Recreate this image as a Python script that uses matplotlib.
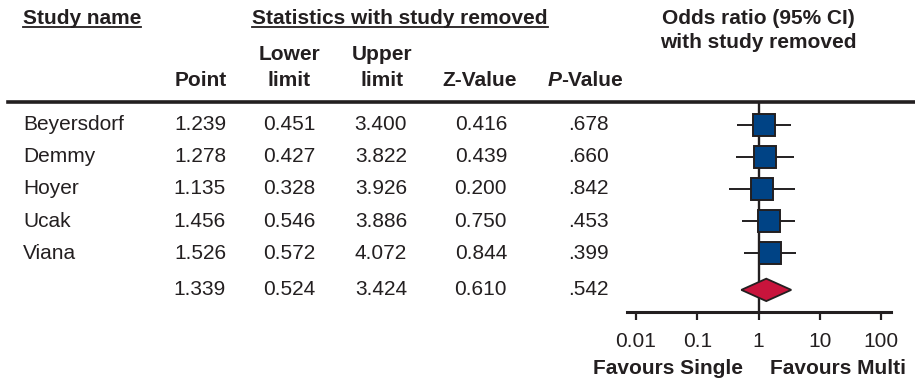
import matplotlib
matplotlib.use("Agg")
import matplotlib.pyplot as plt
from matplotlib.lines import Line2D
from matplotlib.patches import Polygon
from matplotlib.transforms import blended_transform_factory

# leave-one-out sensitivity analysis
studies = ["Beyersdorf", "Demmy", "Hoyer", "Ucak", "Viana"]
point = [1.239, 1.278, 1.135, 1.456, 1.526]
lower = [0.451, 0.427, 0.328, 0.546, 0.572]
upper = [3.400, 3.822, 3.926, 3.886, 4.072]
z_value = [0.416, 0.439, 0.200, 0.750, 0.844]
p_value = [0.678, 0.660, 0.842, 0.453, 0.399]

# pooled estimate
pooled_point = 1.339
pooled_lower = 0.524
pooled_upper = 3.424
pooled_z = 0.610
pooled_p = 0.542

ticks = [0.01, 0.1, 1, 10, 100]
tick_labels = ["0.01", "0.1", "1", "10", "100"]

W, H = 915, 382
FS = 15
TXT = "#231f20"
BLUE = "#004385"
RED = "#c8143c"

plt.rcParams["font.family"] = ["Liberation Sans", "DejaVu Sans"]

fig = plt.figure(figsize=(W / 100, H / 100), dpi=100)


def fx(px):
    return px / W


def fy(py):
    return 1 - py / H


# forest panel: axis line 627..891 px, header rule at 101.5 px, baseline at 312 px
ax = fig.add_axes([fx(627), fy(312), (891 - 627) / W, (312 - 101.5) / H])
ax.set_xscale("log")
ax.set_xlim(10 ** -2.147, 10 ** 2.163)
ax.set_ylim(5.84, -0.73)
for s in ["top", "right", "left"]:
    ax.spines[s].set_visible(False)
ax.spines["bottom"].set_linewidth(2.2)
ax.spines["bottom"].set_color(TXT)
ax.set_yticks([])
ax.set_xticks(ticks)
ax.set_xticklabels(tick_labels)
ax.minorticks_off()
ax.tick_params(axis="x", direction="out", length=5.5, width=1.6, color=TXT,
               labelsize=FS, labelcolor=TXT, pad=9)
ax.axvline(1, color=TXT, lw=1.7, zorder=1)

rows = list(range(len(studies)))
pooled_row = 5.15

ax.hlines(rows, lower, upper, color=TXT, lw=1.4, zorder=2)
ax.plot(point, rows, ls="none", marker="s", ms=15.5, mfc=BLUE, mec=TXT,
        mew=1.4, zorder=3)

h = 0.35
diamond = Polygon([(pooled_lower, pooled_row), (pooled_point, pooled_row - h),
                   (pooled_upper, pooled_row), (pooled_point, pooled_row + h)],
                  closed=True, fc=RED, ec=TXT, lw=1.3, zorder=3)
ax.add_patch(diamond)

# table text: x in figure pixels, y shared with forest rows
tr = blended_transform_factory(fig.transFigure, ax.transData)
col_x = [226, 315, 407, 507, 609]


def fmt_p(p):
    return f"{p:.3f}".lstrip("0")


for i, name in enumerate(studies):
    fig.text(fx(23), i, name, transform=tr, ha="left", va="center",
             fontsize=FS, color=TXT)
    vals = [f"{point[i]:.3f}", f"{lower[i]:.3f}", f"{upper[i]:.3f}",
            f"{z_value[i]:.3f}", fmt_p(p_value[i])]
    for x, v in zip(col_x, vals):
        fig.text(fx(x), i, v, transform=tr, ha="right", va="center",
                 fontsize=FS, color=TXT)

pooled_vals = [f"{pooled_point:.3f}", f"{pooled_lower:.3f}",
               f"{pooled_upper:.3f}", f"{pooled_z:.3f}", fmt_p(pooled_p)]
for x, v in zip(col_x, pooled_vals):
    fig.text(fx(x), pooled_row, v, transform=tr, ha="right", va="center",
             fontsize=FS, color=TXT)

# headers
bold = dict(fontsize=FS, fontweight="bold", color=TXT)
t1 = fig.text(fx(23), fy(18), "Study name", ha="left", va="center", **bold)
t2 = fig.text(fx(252), fy(18), "Statistics with study removed", ha="left",
              va="center", **bold)
fig.text(fx(758), fy(18), "Odds ratio (95% CI)", ha="center", va="center", **bold)
fig.text(fx(758), fy(43), "with study removed", ha="center", va="center", **bold)

fig.text(fx(289), fy(54), "Lower", ha="center", va="center", **bold)
fig.text(fx(382), fy(54), "Upper", ha="center", va="center", **bold)
fig.text(fx(227), fy(80), "Point", ha="right", va="center", **bold)
fig.text(fx(289), fy(80), "limit", ha="center", va="center", **bold)
fig.text(fx(382), fy(80), "limit", ha="center", va="center", **bold)
fig.text(fx(480), fy(80), "Z-Value", ha="center", va="center", **bold)
t_val = fig.text(fx(623), fy(80), "-Value", ha="right", va="center", **bold)

fig.text(fx(668), fy(368), "Favours Single", ha="center", va="center", **bold)
fig.text(fx(838), fy(368), "Favours Multi", ha="center", va="center", **bold)

# header rule
fig.add_artist(Line2D([fx(8), fx(915)], [fy(101.5), fy(101.5)], color=TXT,
                      lw=2.6, transform=fig.transFigure))

fig.canvas.draw()
renderer = fig.canvas.get_renderer()
inv = fig.transFigure.inverted()

# italic P in front of "-Value"
bb = t_val.get_window_extent(renderer).transformed(inv)
fig.text(bb.x0, fy(80), "P", ha="right", va="center", fontstyle="italic", **bold)

# underlines below the group headings
for t in (t1, t2):
    bb = t.get_window_extent(renderer).transformed(inv)
    fig.add_artist(Line2D([bb.x0, bb.x1], [fy(26.5), fy(26.5)], color=TXT,
                          lw=1.3, transform=fig.transFigure))

fig.savefig("out.png", dpi=100, facecolor="white")
